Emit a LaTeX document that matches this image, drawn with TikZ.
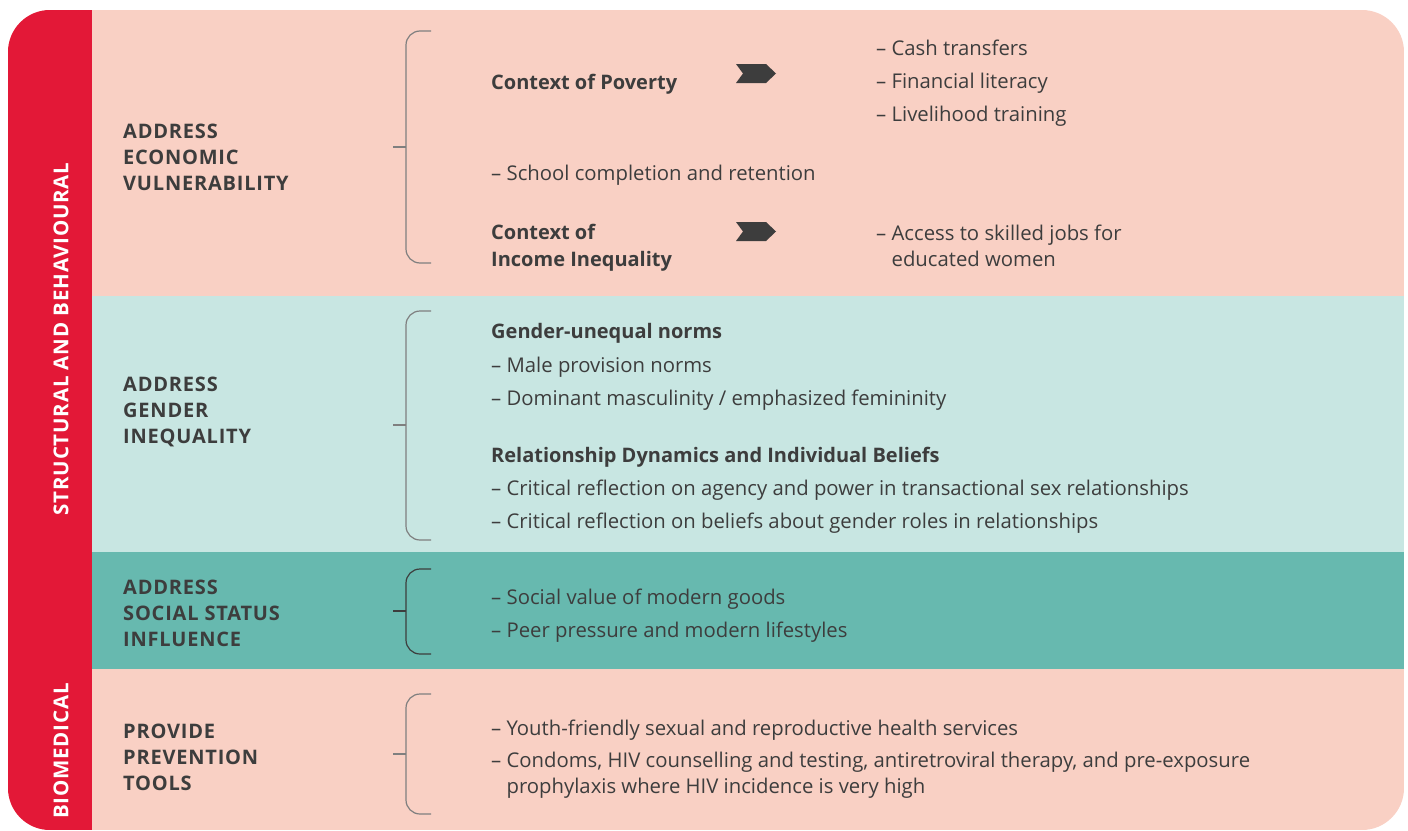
\documentclass[tikz,border=0pt]{standalone}
\usepackage{fontspec}
\setmainfont{Open Sans}
\definecolor{redbar}{HTML}{E31837}
\definecolor{pinkband}{HTML}{F9D0C4}
\definecolor{mintband}{HTML}{C8E6E2}
\definecolor{tealband}{HTML}{67B9AF}
\definecolor{ink}{HTML}{3D3D3D}
\definecolor{bracegray}{HTML}{7F7F7F}

\begin{document}
\begin{tikzpicture}[x=1pt, y=-1pt,
  every node/.style={inner sep=0pt, text=ink, anchor=base west},
  body/.style={font=\fontsize{20.3}{25.5}\selectfont, align=left},
  head/.style={font=\fontsize{20}{26.5}\selectfont\bfseries, align=left},
  label/.style={font=\fontsize{20}{26}\selectfont\bfseries\addfontfeature{LetterSpace=4}, align=left},
  side/.style={font=\fontsize{20.5}{20}\selectfont\bfseries\addfontfeature{LetterSpace=4}, text=white, rotate=90, anchor=center},
  brace/.style={draw=bracegray, line width=1.2pt, rounded corners=14pt},
  chevron/.style={fill=ink}]
  \useasboundingbox (0,0) rectangle (1408,830);

  % backdrop, clipped to the rounded outline
  \begin{scope}
    \clip[rounded corners=42pt] (8,10) rectangle (1404,830);
    \fill[pinkband] (8,10) rectangle (1404,296);
    \fill[mintband] (8,296) rectangle (1404,552);
    \fill[tealband] (8,552) rectangle (1404,669);
    \fill[pinkband] (8,669) rectangle (1404,830);
    \fill[redbar] (8,10) rectangle (92,830);
  \end{scope}

  % side titles
  \node[side] (structural) at (61,339) {STRUCTURAL AND BEHAVIOURAL};
  \node[side] (biomedical) at (61,751) {BIOMEDICAL};

  % section labels (anchored at the baseline of their last line)
  \node[label] (economic) at (123,190) {ADDRESS\\ECONOMIC\\VULNERABILITY};
  \node[label] (gender) at (123,443) {ADDRESS\\GENDER\\INEQUALITY};
  \node[label] (status) at (123,646) {ADDRESS\\SOCIAL STATUS\\INFLUENCE};
  \node[label] (tools) at (123,790) {PROVIDE\\PREVENTION\\TOOLS};

  % braces
  \draw[brace] (431,31) -- (406,31) -- (406,263) -- (431,263);
  \draw[brace, rounded corners=0pt] (393,147) -- (406,147);
  \draw[brace] (431,311) -- (406,311) -- (406,540) -- (431,540);
  \draw[brace, rounded corners=0pt] (393,425) -- (406,425);
  \draw[brace, draw=ink] (431,569) -- (406,569) -- (406,654) -- (431,654);
  \draw[brace, draw=ink, rounded corners=0pt] (393,611) -- (406,611);
  \draw[brace] (431,694) -- (406,694) -- (406,814) -- (431,814);
  \draw[brace, rounded corners=0pt] (393,754) -- (406,754);

  % economic vulnerability
  \node[head] (poverty) at (491,89) {Context of Poverty};
  \fill[chevron] (736,64) -- (766,64) -- (776,73.5) -- (766,83) -- (736,83) -- (743,73.5) -- cycle;
  \node[body] (cash) at (876,55) {-- Cash transfers};
  \node[body] (literacy) at (876,88) {-- Financial literacy};
  \node[body] (livelihood) at (876,121) {-- Livelihood training};
  \node[body] (school) at (491,180) {-- School completion and retention};
  \node[head] (inequality) at (491,266) {Context of\\Income Inequality};
  \fill[chevron] (736,222) -- (766,222) -- (776,231.5) -- (766,241) -- (736,241) -- (743,231.5) -- cycle;
  \node[body] (jobs) at (876,266) {-- Access to skilled jobs for\\\hphantom{-- }educated women};

  % gender inequality
  \node[head] (norms) at (491,338) {Gender-unequal norms};
  \node[body] (provision) at (491,372) {-- Male provision norms};
  \node[body] (masculinity) at (491,405) {-- Dominant masculinity / emphasized femininity};
  \node[head] (beliefs) at (491,462) {Relationship Dynamics and Individual Beliefs};
  \node[body] (agency) at (491,495) {-- Critical reflection on agency and power in transactional sex relationships};
  \node[body] (roles) at (491,528) {-- Critical reflection on beliefs about gender roles in relationships};

  % social status
  \node[body] (goods) at (491,604) {-- Social value of modern goods};
  \node[body] (peer) at (491,637) {-- Peer pressure and modern lifestyles};

  % prevention tools
  \node[body] (youth) at (491,735) {-- Youth-friendly sexual and reproductive health services};
  \node[body] (condoms) at (491,793) {-- Condoms, HIV counselling and testing, antiretroviral therapy, and pre-exposure\\\hphantom{-- }prophylaxis where HIV incidence is very high};
\end{tikzpicture}
\end{document}
